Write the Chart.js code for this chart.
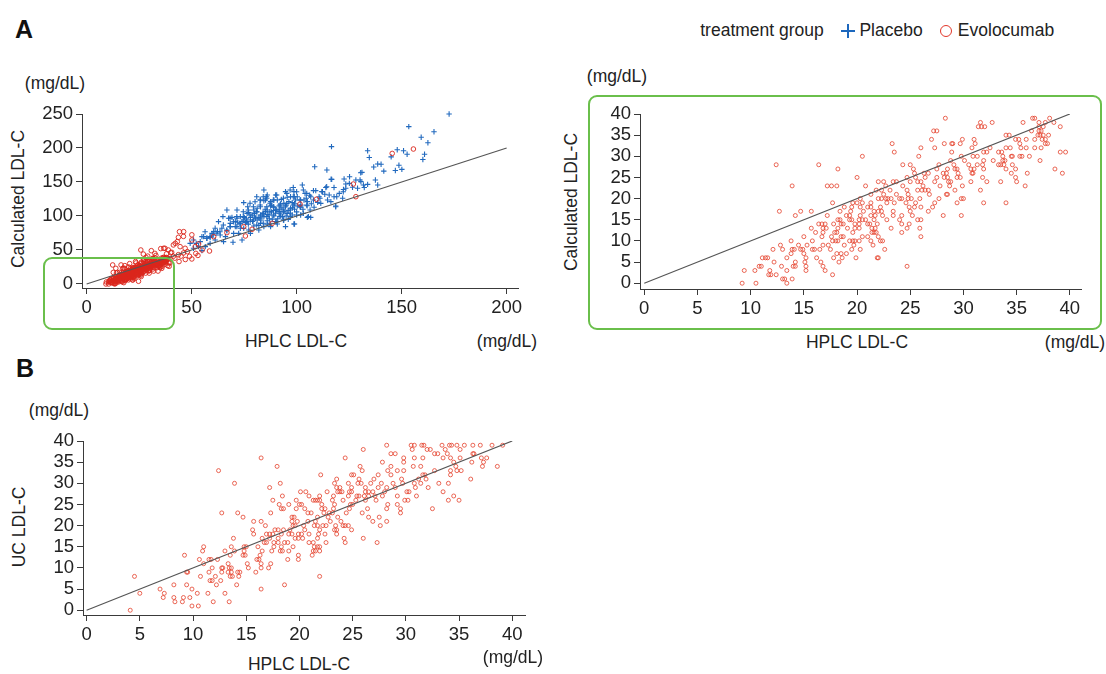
<!DOCTYPE html>
<html>
<head>
<meta charset="utf-8">
<script src="https://cdn.jsdelivr.net/npm/chart.js@4.4.1/dist/chart.umd.min.js"></script>
<style>
body { margin: 0; background: #fff; font-family: "Liberation Sans", Arial, sans-serif; color: #222; }
#page { position: relative; width: 1106px; height: 674px; overflow: hidden; }
.t { position: absolute; font-size: 17.5px; line-height: 1; white-space: nowrap; transform: translate(-50%, -50%); }
.v { transform: translate(-50%, -50%) rotate(-90deg); }
.panel { font-size: 25px; font-weight: bold; color: #111; }
.zoombox { position: absolute; border: 2px solid #6abf4b; border-radius: 9px; pointer-events: none; }
.cross { position: absolute; width: 14px; height: 14px; transform: translate(-50%, -50%); }
.cross:before, .cross:after { content: ""; position: absolute; background: #1c67bd; }
.cross:before { left: 6px; top: 0; width: 2px; height: 14px; }
.cross:after { left: 0; top: 6px; width: 14px; height: 2px; }
.ring { position: absolute; width: 10px; height: 10px; border: 1.6px solid #e2372a; border-radius: 50%; transform: translate(-50%, -50%); }
canvas { position: absolute; }
</style>
</head>
<body>
<div id="page">
  <div class="t panel" style="left:24px;top:29px">A</div>
  <div class="t panel" style="left:25px;top:368px">B</div>

  <div class="t" style="left:762px;top:31px">treatment group</div>
  <div class="cross" style="left:848px;top:31px"></div>
  <div class="t" style="left:891px;top:31px">Placebo</div>
  <div class="ring" style="left:946px;top:31px"></div>
  <div class="t" style="left:1006px;top:31px">Evolocumab</div>

  <div class="t" style="left:55px;top:84px">(mg/dL)</div>
  <div class="t v" style="left:19px;top:199px">Calculated LDL-C</div>
  <div class="t" style="left:296px;top:342px">HPLC LDL-C</div>
  <div class="t" style="left:507px;top:342px">(mg/dL)</div>

  <div class="t" style="left:617px;top:77px">(mg/dL)</div>
  <div class="t v" style="left:572px;top:202px">Calculated LDL-C</div>
  <div class="t" style="left:857px;top:343px">HPLC LDL-C</div>
  <div class="t" style="left:1075px;top:343px">(mg/dL)</div>

  <div class="t" style="left:59px;top:411px">(mg/dL)</div>
  <div class="t v" style="left:20px;top:527px">UC LDL-C</div>
  <div class="t" style="left:299px;top:665px">HPLC LDL-C</div>
  <div class="t" style="left:513px;top:658px">(mg/dL)</div>
</div>
<script>
// ---- data: [HPLC LDL-C, comparator LDL-C] in mg/dL ----

// Evolocumab group, calculated vs HPLC, low range (also used in the full-range plot)
const evoLowPts = [
  [28.3,39],[36.5,39],[36.7,39],[38.1,39],
  [31.6,38],[32.7,38],[35.6,38],[37.1,38],[37.7,38],[38.5,38],
  [31.4,37],[31.7,37],[32.0,37],[37.1,37],[37.5,37],[39.1,37],
  [27.2,36],[27.5,36],[36.4,36],[37.1,36],[37.3,36],
  [34.0,35],[34.3,35],[37.0,35],[37.2,35],[37.5,35],[38.0,35],
  [27.0,34],[29.9,34],[31.0,34],[34.9,34],[35.2,34],[35.9,34],[36.7,34],[37.4,34],[37.7,34],
  [23.3,33],[28.2,33],[28.9,33],[29.0,33],[29.7,33],[31.1,33],[35.3,33],[37.7,33],[37.9,33],
  [26.0,32],[27.3,32],[30.8,32],[32.5,32],[34.0,32],[34.4,32],[35.4,32],[35.9,32],[36.7,32],[37.3,32],
  [23.5,31],[28.9,31],[31.9,31],[32.2,31],[33.3,31],[33.6,31],[39.1,31],[39.6,31],
  [20.5,30],[25.8,30],[29.8,30],[30.9,30],[31.3,30],[33.7,30],[34.5,30],[34.6,30],[35.3,30],[35.5,30],[36.2,30],
  [28.8,29],[30.1,29],[31.9,29],[32.8,29],[33.7,29],[33.9,29],[37.2,29],
  [12.4,28],[16.4,28],[24.3,28],[25.0,28],[27.7,28],[29.1,28],[30.5,28],[31.3,28],[31.8,28],[33.3,28],[33.5,28],[33.8,28],[34.6,28],
  [18.2,27],[25.3,27],[27.5,27],[28.5,27],[29.2,27],[29.4,27],[30.7,27],[31.0,27],[31.9,27],[34.0,27],[34.9,27],[38.6,27],
  [25.4,26],[26.3,26],[26.7,26],[28.1,26],[28.4,26],[29.5,26],[30.8,26],[30.9,26],[34.5,26],[36.0,26],[39.3,26],
  [20.0,25],[24.7,25],[25.5,25],[26.4,25],[27.5,25],[28.2,25],[28.5,25],[29.4,25],[29.7,25],[31.8,25],[34.9,25],
  [22.0,24],[22.5,24],[23.4,24],[23.7,24],[25.0,24],[25.7,24],[26.0,24],[27.3,24],[28.6,24],[28.8,24],[30.7,24],[32.2,24],[33.5,24],[35.0,24],
  [13.9,23],[17.2,23],[17.6,23],[18.1,23],[20.8,23],[22.7,23],[24.3,23],[26.2,23],[27.8,23],[28.7,23],[29.9,23],[35.8,23],
  [21.8,22],[22.3,22],[23.1,22],[24.7,22],[25.7,22],[26.1,22],[26.4,22],[26.7,22],[29.2,22],[31.6,22],
  [21.3,21],[22.5,21],[23.7,21],[24.8,21],[26.8,21],[28.4,21],[28.5,21],
  [20.3,20],[22.0,20],[22.3,20],[22.7,20],[22.9,20],[23.2,20],[24.0,20],[24.2,20],[24.8,20],[25.1,20],[25.9,20],[27.7,20],[29.8,20],[30.0,20],
  [17.7,19],[19.6,19],[20.0,19],[20.5,19],[21.3,19],[22.8,19],[23.5,19],[24.6,19],[25.5,19],[27.3,19],[29.4,19],[31.9,19],[34.0,19],
  [18.8,18],[19.5,18],[20.3,18],[21.0,18],[21.3,18],[22.2,18],[24.9,18],[25.4,18],[26.0,18],[27.1,18],
  [12.7,17],[14.7,17],[15.7,17],[18.4,17],[19.4,17],[20.6,17],[21.6,17],[22.0,17],[22.3,17],[23.4,17],[25.0,17],[26.7,17],
  [14.2,16],[17.2,16],[19.0,16],[19.3,16],[20.3,16],[21.3,16],[21.7,16],[22.4,16],[23.4,16],[24.2,16],[25.2,16],[28.1,16],[29.8,16],
  [18.2,15],[18.4,15],[19.3,15],[19.5,15],[20.2,15],[20.5,15],[20.8,15],[21.6,15],[22.8,15],[24.0,15],[25.7,15],[26.0,15],
  [16.4,14],[16.7,14],[17.0,14],[17.8,14],[18.5,14],[18.7,14],[19.8,14],[20.2,14],[21.0,14],[21.2,14],[21.9,14],[24.2,14],[24.9,14],
  [15.7,13],[16.8,13],[17.1,13],[18.2,13],[19.1,13],[19.8,13],[20.2,13],[21.4,13],[21.7,13],[23.2,13],[24.7,13],[25.9,13],
  [16.1,12],[16.8,12],[17.9,12],[18.1,12],[19.6,12],[21.4,12],[21.6,12],[21.8,12],[24.2,12],
  [15.0,11],[16.7,11],[17.6,11],[18.5,11],[18.7,11],[20.5,11],[21.0,11],[22.0,11],[26.0,11],
  [13.8,10],[15.8,10],[17.7,10],[18.0,10],[18.2,10],[19.3,10],[19.6,10],[19.8,10],[20.2,10],[21.3,10],[22.2,10],[22.4,10],
  [12.8,9],[14.5,9],[15.3,9],[16.8,9],[17.3,9],[18.8,9],[19.7,9],[21.5,9],
  [12.1,8],[13.0,8],[13.9,8],[14.1,8],[14.7,8],[14.9,8],[15.8,8],[16.0,8],[16.5,8],[17.5,8],[19.5,8],[20.3,8],[22.6,8],
  [13.8,7],[15.0,7],[18.1,7],[18.5,7],[19.0,7],
  [11.1,6],[11.4,6],[11.6,6],[13.4,6],[15.2,6],[16.2,6],[17.8,6],[18.6,6],[19.9,6],[21.9,6],[22.0,6],
  [12.2,5],[14.2,5],[15.1,5],[16.6,5],[18.3,5],
  [10.8,4],[11.0,4],[12.9,4],[14.0,4],[14.2,4],[15.2,4],[16.8,4],[24.7,4],
  [9.4,3],[10.4,3],[11.8,3],[13.4,3],[15.2,3],[17.0,3],
  [11.7,2],[11.9,2],[12.4,2],[17.7,2],
  [13.0,1],[13.2,1],[13.9,1],
  [9.2,0],[10.5,0],[13.4,0]
];

// Evolocumab group, calculated vs HPLC, values beyond 40 mg/dL on either axis
const evoHighPts = [
  [44.2,76.9],[46.1,70],[50.1,72.3],[50.1,64.7],[43.2,62.3],[41.3,57.4],[38.9,50],[37.3,52.5],
  [44.5,54.9],[46.9,52.5],[51.7,54.9],[58.5,48.5],[50.1,36.8],[49,40.7],[46.1,45.6],[43.7,43.1],
  [41.3,40.7],[40.5,46.6],[38.1,44.6],[48,47.5],[53.3,58.8],[60.5,69.6],[66.8,75.5],[74.8,84.3],
  [75.6,70.6],[78.8,80.4],[88.4,89.2],[101.6,117.6],[109.4,124.6],[127,147],[128.2,128.4],
  [145.5,192],[155.6,198.5],[25.8,50],[30.8,49],[35.3,52],[46.2,77],[43.7,68.6],[42.2,59.8],
  [36.7,52.5],[40,46],[32.5,45],[29.1,41],[33,42],[27,44],[42,38],[45,41],[52,45],[55,50],
  [47,36],[44,33],[53,42]
];

// Placebo group, calculated vs HPLC
const placeboPts = [
  [172.6,250],[153.4,231.4],[165.4,224],[159.3,215.7],[162.5,207.8],[116.6,202],[133.8,196],[147.9,197.5],
  [150.9,196],[152.6,190.7],[145,187],[134.6,186],[160.9,190.7],[160.1,183],[108.6,172.5],[114.4,167.6],
  [148.7,174.6],[150.1,168.6],[147,167],[136.7,172],[138.6,176.5],[140.2,176],[141.5,166],[131.1,164.2],
  [125.2,157.8],[122.6,154.4],[128.2,152.9],[130.6,150.5],[133.8,146.5],[137.5,152.9],[138.6,145.6],
  [116.7,153.9],[117.8,142],[122.3,139],[123.4,147],[132.2,142],[113.9,142],[109.1,137.3],[113.4,131.9],
  [114.7,123.5],[118.6,113.7],[121.9,126],[98.4,142],[94.7,135.8],[106.2,130.4],[104,133],[103.5,123.5],
  [105.1,121.1],[101.9,112.8],[99.5,123.5],[98.9,128.4],[105.1,98],[106.7,98],[99,88.2],[95.5,103.9],
  [93.9,108.8],[92.3,117.6],[89.2,123.5],[85.6,128.4],[84.4,122.5],[82.8,113.7],[79.6,108.8],[77.2,104.9],
  [75.1,98],[71.6,96.6],[69.2,98],[73.2,88.2],[76.4,91.7],[79.6,85.3],[82.8,89.2],[86,93.1],[89.2,100],
  [91.6,106.4],[93.2,99],[97.1,111.3],[97.9,101.5],[100.3,114.7],[96.3,121.1],[87.6,114.7],[85.2,106.4],
  [82.8,101.5],[80.4,96.6],[78,94.2],[75.6,90.2],[73.2,81.9],[70.8,84.3],[68.4,89.2],[66.8,78.4],[70,74.5],
  [66.1,69.6],[63.6,72],[62.8,91.7],[61.2,81.9],[60.5,77],[58.8,69.6],[57.3,67.2],[55.7,69.6],[54.1,62.3],
  [53.3,54.9],[56.5,54.9],[58.8,59.8],[50.9,52.5],[52.2,59.8],[54.9,69.6],[69.7,61.3],[74,64.7],[78,74.5],
  [82,79.4],[84.4,84.3],[87.6,84.3],[90.8,88.2],[93.9,94.2],[86.8,101.5],[90,108.8],[87.6,121.1],[90,130.9],
  [92.7,124.5],[101.9,101.5],[108.3,112.8],[111.5,118.6],[116.3,121.1],[98.7,135.8],[102.7,145.6],[73.2,99],
  [76.4,103.9],[81.2,111.3],[83.6,101.5],[78.8,101.5],[86,108.8],[89.2,112.8],[91.6,114.7],[94.7,113.7],
  [97.9,119.6],[71.6,108.8],[66.8,108.8],[64.9,99],[67.6,96.6],[70.8,91.7],[74.8,81.9],[77.2,79.4],[72.4,74.5],
  [64.4,81.9],[62.3,77],[59.7,74.5],[68.4,84.3],[82.8,123.5],[86,130.9],[84.4,138.2],[85.2,123.5],[90.8,123.5],
  [93.9,118.6],[95.5,127.5],[97.1,128.4],[100.3,128.4],[101.9,123.5],[104.6,126],[106.7,128.4],[110.7,128.4],
  [112.3,135.8],[115.5,130.9],[117.8,128.4],[120.3,133.3],[123.4,140.7],[126.6,142.2],[129,140.7],[74.8,94.2],
  [81.2,94.2],[84.4,99],[88.4,95.1],[92.3,101.5],[79.9,103.9],[76.7,113.7],[74.8,119.6],[94.7,84.3],[98.7,88.2],
  [50.9,64.7],[49.3,59.8],[54.9,49],[61.2,64.7],[65.2,62.3],
  [80,100],[82,98],[84,104],[86,102],[88,106],[90,104],[92,110],[94,106],[96,108],[98,112],[85,110],[87,96],
  [89,108],[91,96],[93,112],[95,116],[97,104],[99,110],[100,106],[102,116],[78,98],[76,96],[74,92],[72,90],
  [79,92],[81,106],[83,94],[88,116],[92,104],[95,100],[99,118],[103,110],[105,115],[107,118],[110,120],
  [96,95],[90,92],[86,88],[82,86],[77,88],
  [116.4,154],[125.1,148],[130.5,163.7],[130.2,153],[131.8,145.6],[122.2,135.7],[119.1,128.4],[118.6,114.7],
  [114.3,143],[112,135.8],[108,137.3],[104.8,133.3],[101.6,123.5],[98.4,128.4],[95.3,133.3],[88.9,123.5],
  [85.8,126],[84.1,128.4],[88.9,113.7],[92.1,116.2],[95.3,118.6],[98.4,116.2],[101.6,113.7],[96.9,108.8],
  [93.7,106.3],[90.5,108.8],[87.3,106.3],[84.1,104],[81,106.3],[79.4,113.7],[82.6,116.2],[77.8,101.5],
  [74.6,99],[76.2,91.6],[79.4,94.1],[82.6,96.6],[85.8,99],[88.9,101.5],[92.1,99],[73,89.3],[71.5,84.3],
  [69.9,91.6],[68.3,84.3],[66.7,79.4],[65.1,86.8],[63.5,76.9],[62,74.6],[60.3,72],[58.8,68.6],[57.2,67.2],
  [56.4,76.9],[81,86.8],[84.1,89.3],[87.3,89.3],[90.5,91.6],[93.7,94.1],[96.9,99],[100,101.5],[103.2,104],
  [106.4,108.8],[105.6,99],[104.8,116.2],[108,123.5],[111.1,126],[74.6,106.3],[71.5,99],[68.3,96.6],
  [85.8,113.7],[82.6,123.5],[80.2,121],[77,108.8],[96.9,138.2],[100,135.7],[103.2,138.2],[90.5,130.9],
  [93.7,126],[87.3,118.7],[77.8,118.7],[81,128.4]
];

// Evolocumab group, ultracentrifugation vs HPLC
const ucPts = [
  [28.2,39],[30.5,39],[30.8,39],[31.5,39],[31.7,39],[33.4,39],[34.1,39],[34.3,39],[34.8,39],[35.5,39],[36.3,39],[37.0,39],[38.1,39],[39.1,39],
  [26.0,38],[30.6,38],[32.0,38],[32.3,38],[33.7,38],[35.1,38],
  [28.6,37],[29.0,37],[32.7,37],[33.0,37],[33.9,37],[36.3,37],[36.4,37],
  [16.4,36],[24.3,36],[29.8,36],[30.8,36],[31.6,36],[33.5,36],[34.2,36],[35.1,36],[37.1,36],[37.6,36],
  [27.8,35],[29.8,35],[34.5,35],[36.2,35],[37.3,35],
  [17.9,34],[25.7,34],[28.6,34],[30.7,34],[31.4,34],[34.7,34],[37.2,34],[38.6,34],
  [12.4,33],[25.9,33],[28.3,33],[29.2,33],[29.8,33],[32.7,33],[34.2,33],[34.8,33],[35.2,33],
  [22.0,32],[24.9,32],[25.1,32],[27.4,32],[28.6,32],[31.6,32],[31.8,32],[34.2,32],
  [23.5,31],[25.6,31],[27.0,31],[29.6,31],[31.2,31],[31.9,31],[36.1,31],
  [13.9,30],[18.2,30],[23.3,30],[24.6,30],[25.5,30],[25.8,30],[26.7,30],[27.7,30],[28.8,30],[29.7,30],[30.8,30],[31.4,30],[33.1,30],[34.0,30],
  [17.2,29],[23.5,29],[23.8,29],[24.9,29],[26.2,29],[27.4,29],[28.2,29],[29.0,29],[30.9,29],[32.1,29],
  [20.1,28],[20.6,28],[22.6,28],[23.6,28],[23.8,28],[24.0,28],[24.7,28],[24.9,28],[26.2,28],[26.5,28],[26.9,28],[28.0,28],[30.1,28],[30.3,28],[33.5,28],
  [18.4,27],[20.9,27],[21.9,27],[23.2,27],[24.6,27],[25.4,27],[25.6,27],[26.1,27],[26.5,27],[27.1,27],[27.8,27],[29.2,27],[31.0,27],[34.5,27],
  [17.5,26],[19.7,26],[21.3,26],[21.5,26],[21.7,26],[21.9,26],[23.1,26],[24.1,26],[25.3,26],[26.2,26],[27.2,26],[29.9,26],[30.2,26],[34.0,26],[35.0,26],
  [18.1,25],[19.0,25],[20.0,25],[20.2,25],[22.1,25],[23.3,25],[24.8,25],[25.0,25],[28.3,25],[29.2,25],
  [18.3,24],[18.5,24],[19.7,24],[20.5,24],[22.1,24],[22.4,24],[23.2,24],[24.7,24],[26.4,24],[28.2,24],[29.5,24],[32.5,24],
  [12.7,23],[14.2,23],[17.3,23],[20.8,23],[21.1,23],[22.3,23],[22.8,23],[23.1,23],[24.4,23],[25.9,23],[29.5,23],
  [14.7,22],[19.3,22],[19.5,22],[21.7,22],[22.7,22],[23.6,22],[26.5,22],[27.5,22],
  [15.7,21],[16.4,21],[19.3,21],[19.8,21],[20.8,21],[21.5,21],[22.9,21],[23.9,21],[26.9,21],[28.2,21],
  [16.8,20],[19.4,20],[19.6,20],[20.4,20],[21.4,20],[21.7,20],[22.2,20],[22.5,20],[23.4,20],[24.1,20],[24.3,20],[24.6,20],[27.6,20],
  [15.6,19],[17.7,19],[18.0,19],[18.5,19],[19.1,19],[20.5,19],[21.9,19],[23.3,19],[23.5,19],[24.9,19],
  [15.7,18],[16.9,18],[17.2,18],[17.5,18],[18.3,18],[19.0,18],[19.3,18],[19.9,18],[20.2,18],[20.9,18],[21.8,18],[22.4,18],[23.5,18],
  [13.8,17],[16.5,17],[17.2,17],[18.0,17],[19.6,17],[19.9,17],[20.3,17],[21.7,17],[24.2,17],[26.0,17],
  [16.7,16],[16.9,16],[17.6,16],[18.0,16],[18.6,16],[18.9,16],[20.9,16],[21.3,16],[22.5,16],[24.3,16],[27.3,16],
  [11.0,15],[13.6,15],[14.8,15],[15.0,15],[16.1,15],[17.6,15],[18.3,15],[19.4,15],[21.4,15],[21.7,15],[21.9,15],
  [10.9,14],[13.0,14],[13.9,14],[14.8,14],[16.5,14],[17.4,14],[18.2,14],[18.4,14],[19.0,14],[21.3,14],[21.5,14],[21.9,14],
  [9.2,13],[13.5,13],[14.7,13],[14.9,13],[16.3,13],[19.9,13],[21.2,13],
  [10.6,12],[11.5,12],[11.7,12],[12.3,12],[16.0,12],[16.2,12],[18.9,12],[19.9,12],
  [11.0,11],[13.3,11],[15.1,11],[16.4,11],[17.3,11],
  [11.8,10],[12.7,10],[12.8,10],[13.4,10],[13.6,10],[15.2,10],[16.4,10],[17.1,10],
  [9.4,9],[9.5,9],[11.5,9],[12.7,9],[13.3,9],[13.6,9],[14.2,9],[14.4,9],[15.9,9],
  [4.5,8],[10.7,8],[12.1,8],[13.5,8],[13.7,8],[14.3,8],[21.9,8],
  [11.6,7],[11.8,7],[12.6,7],
  [8.2,6],[9.4,6],[12.2,6],[14.1,6],[18.6,6],
  [6.9,5],[9.9,5],[16.4,5],
  [5.0,4],[7.3,4],[10.4,4],[11.4,4],[13.0,4],
  [7.2,3],[8.2,3],[9.1,3],[9.7,3],
  [8.3,2],[9.0,2],[11.9,2],[13.4,2],
  [9.9,1],[10.5,1],
  [4.1,0]
];

// tick values and the line of identity
const wideTicksX = [0, 50, 100, 150, 200];
const wideTicksY = [0, 50, 100, 150, 200, 250];
const lowTicks = [0, 5, 10, 15, 20, 25, 30, 35, 40];
const identityWide = [0, 200];
const identityLow = [0, 40];

// ---- drawing ----
const page = document.getElementById('page');
const AXIS_W = 50, AXIS_H = 32;
const PAD = { left: 2, top: 12, right: 26, bottom: 2 };
const INK = '#3a3a3a';

function toXY(pts) { return pts.map(p => ({ x: p[0], y: p[1] })); }

function axis(pos, min, max, ticks) {
  return {
    type: 'linear', position: pos, min: min, max: max,
    afterBuildTicks: s => { s.ticks = ticks.map(v => ({ value: v })); },
    afterFit: s => {
      if (pos === 'left') s.width = AXIS_W; else s.height = AXIS_H;
      s.paddingLeft = s.paddingRight = s.paddingTop = s.paddingBottom = 0;
    },
    grid: { drawOnChartArea: false, drawTicks: true, tickLength: 6, color: INK, lineWidth: 1 },
    border: { display: true, color: INK, width: 1 },
    ticks: { color: '#222', padding: 3, autoSkip: false, maxRotation: 0,
             font: { family: 'Liberation Sans', size: 18.5 } }
  };
}

function identityLine(ends) {
  return { data: ends.map(v => ({ x: v, y: v })), showLine: true, pointRadius: 0,
           borderColor: '#555', borderWidth: 1.2, order: 0 };
}

// area = plotting rectangle in page pixels
function scatterPanel(area, xr, yr, xTicks, yTicks, datasets) {
  const c = document.createElement('canvas');
  const w = area.w + AXIS_W + PAD.left + PAD.right;
  const h = area.h + AXIS_H + PAD.top + PAD.bottom;
  c.width = w; c.height = h;
  c.style.left = (area.x - AXIS_W - PAD.left) + 'px';
  c.style.top = (area.y - PAD.top) + 'px';
  c.style.width = w + 'px'; c.style.height = h + 'px';
  page.insertBefore(c, page.firstChild);
  new Chart(c, {
    type: 'scatter',
    data: { datasets: datasets },
    options: {
      responsive: false, animation: false, devicePixelRatio: 1,
      layout: { padding: PAD },
      plugins: { legend: { display: false }, tooltip: { enabled: false } },
      scales: { x: axis('bottom', xr[0], xr[1], xTicks), y: axis('left', yr[0], yr[1], yTicks) }
    }
  });
}

function box(x, y, w, h) {
  const d = document.createElement('div');
  d.className = 'zoombox';
  d.style.cssText = `left:${x}px;top:${y}px;width:${w}px;height:${h}px`;
  page.appendChild(d);
}

// A, full range
scatterPanel({ x: 82, y: 114, w: 436, h: 174 }, [-2.2, 205.4], [-5.9, 250], wideTicksX, wideTicksY, [
  identityLine(identityWide),
  { data: toXY(evoLowPts.concat(evoHighPts)), pointStyle: 'circle', pointRadius: 2.3, clip: 6,
    borderColor: 'rgba(218,38,28,0.9)', backgroundColor: 'rgba(0,0,0,0)', borderWidth: 1, order: 1 },
  { data: toXY(placeboPts), pointStyle: 'cross', pointRadius: 2.7, borderColor: '#2169be', clip: 6,
    borderWidth: 1.1, order: 2 }
]);

// A, 0-40 mg/dL close-up
scatterPanel({ x: 640, y: 114, w: 441, h: 175 }, [-0.4, 41.05], [-1.37, 40], lowTicks, lowTicks, [
  identityLine(identityLow),
  { data: toXY(evoLowPts), pointStyle: 'circle', pointRadius: 2, clip: 6,
    borderColor: 'rgba(228,62,40,0.78)', backgroundColor: 'rgba(0,0,0,0)', borderWidth: 1, order: 1 }
]);

// B, UC vs HPLC
scatterPanel({ x: 83, y: 441, w: 442, h: 174 }, [-0.34, 41.2], [-1.13, 40], lowTicks, lowTicks, [
  identityLine(identityLow),
  { data: toXY(ucPts), pointStyle: 'circle', pointRadius: 2, clip: 6,
    borderColor: 'rgba(228,62,40,0.78)', backgroundColor: 'rgba(0,0,0,0)', borderWidth: 1, order: 1 }
]);

box(43, 257, 128, 69);
box(588, 95, 510, 231);
</script>
</body>
</html>
